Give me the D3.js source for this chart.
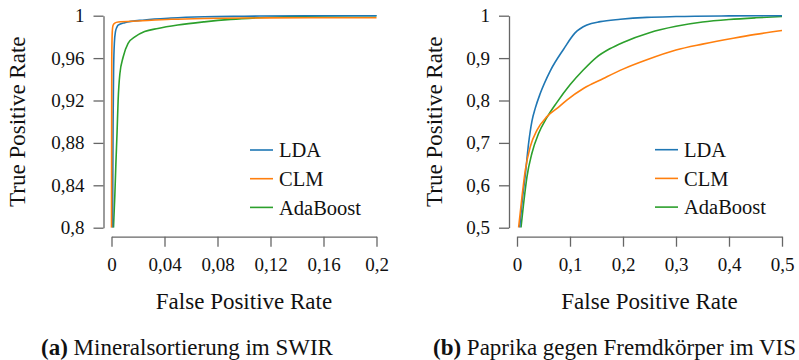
<!DOCTYPE html>
<html>
<head>
<meta charset="utf-8">
<script src="https://cdn.jsdelivr.net/npm/d3@7"></script>
<style>
  body { margin: 0; background: #ffffff; }
  svg { display: block; }
</style>
</head>
<body>
<svg id="chart" width="799" height="360"></svg>
<script>
// ROC curves, [false positive rate, true positive rate]
// (a) SWIR
var ldaSwir = [[0.0008, 0.8], [0.0012, 0.9], [0.0016, 0.95], [0.0022, 0.975], [0.003, 0.985], [0.004, 0.989],
	[0.005, 0.991], [0.01, 0.9934], [0.025, 0.996], [0.045, 0.9978], [0.07, 0.999], [0.1, 0.9995], [0.15, 1], [0.2, 1]];
var clmSwir = [[0, 0.8], [0.0002, 0.96], [0.0006, 0.985], [0.0012, 0.991], [0.0025, 0.993], [0.005, 0.994],
	[0.02, 0.995], [0.045, 0.9966], [0.07, 0.9974], [0.1, 0.9978], [0.15, 0.998], [0.2, 0.998]];
var adaSwir = [[0.0015, 0.8], [0.0025, 0.83], [0.0033, 0.86], [0.0042, 0.89], [0.005, 0.92], [0.0063, 0.945],
	[0.0088, 0.961], [0.0125, 0.974], [0.0176, 0.98], [0.025, 0.985], [0.035, 0.988], [0.05, 0.9912], [0.07, 0.9942],
	[0.09, 0.9965], [0.11, 0.998], [0.13, 0.999], [0.16, 0.9998], [0.2, 1]];

// (b) VIS
var ldaVis = [[0.005, 0.5], [0.0094, 0.558], [0.0157, 0.625], [0.022, 0.7], [0.0283, 0.752], [0.0345, 0.782],
	[0.044, 0.817], [0.0628, 0.87], [0.0879, 0.921], [0.11, 0.96], [0.132, 0.978], [0.157, 0.986],
	[0.195, 0.9915], [0.245, 0.996], [0.3, 0.998], [0.4, 0.9995], [0.5, 1]];
var clmVis = [[0.003, 0.5], [0.0094, 0.573], [0.0157, 0.636], [0.025, 0.691], [0.0377, 0.73], [0.0565, 0.762],
	[0.078, 0.784], [0.094, 0.801], [0.126, 0.829], [0.163, 0.852], [0.2, 0.874], [0.245, 0.896], [0.3, 0.919],
	[0.35, 0.933], [0.408, 0.947], [0.45, 0.956], [0.5, 0.965]];
var adaVis = [[0.0075, 0.5], [0.0125, 0.557], [0.0188, 0.62], [0.028, 0.675], [0.0407, 0.722], [0.0565, 0.76],
	[0.075, 0.795], [0.1, 0.837], [0.125, 0.872], [0.15, 0.902], [0.175, 0.922], [0.2, 0.937], [0.25, 0.96],
	[0.3, 0.975], [0.35, 0.985], [0.4, 0.991], [0.45, 0.995], [0.5, 0.998]];

var seriesNames = ["LDA", "CLM", "AdaBoost"];
var seriesColors = ["#1f77b4", "#ff7f0e", "#2ca02c"];

var xTicksSwir = [0, 0.04, 0.08, 0.12, 0.16, 0.2];
var yTicksSwir = [0.8, 0.84, 0.88, 0.92, 0.96, 1];
var xTicksVis = [0, 0.1, 0.2, 0.3, 0.4, 0.5];
var yTicksVis = [0.5, 0.6, 0.7, 0.8, 0.9, 1];

var xLabel = "False Positive Rate";
var yLabel = "True Positive Rate";

var serif = "'Liberation Serif', 'Times New Roman', serif";
var axisColor = "#666666";

var de = d3.formatLocale({ decimal: ",", thousands: ".", grouping: [3], currency: ["", " €"] });
var fmt = de.format("~g");

var svg = d3.select("#chart");
svg.append("rect").attr("width", 799).attr("height", 360).attr("fill", "#ffffff");

function panel(o)
{
	var g = svg.append("g");

	var x = d3.scaleLinear().domain(o.xDomain).range([o.left, o.right]);
	var y = d3.scaleLinear().domain(o.yDomain).range([o.bottom, o.top]);

	var xAxis = g.append("g")
		.attr("transform", "translate(0," + (o.bottom + 9) + ")")
		.call(d3.axisBottom(x).tickValues(o.xTicks).tickFormat(fmt).tickSize(10).tickSizeOuter(0).tickPadding(11));
	var yAxis = g.append("g")
		.attr("transform", "translate(" + (o.left - 8) + ",0)")
		.call(d3.axisLeft(y).tickValues(o.yTicks).tickFormat(fmt).tickSize(10).tickSizeOuter(0).tickPadding(9));

	[xAxis, yAxis].forEach(function(a)
	{
		a.attr("font-family", serif).attr("font-size", 19);
		a.selectAll("path, line").attr("stroke", axisColor).attr("stroke-width", 1.3);
		a.selectAll("text").attr("fill", "#111111");
	});

	var clipId = "clip-" + o.id;
	g.append("clipPath").attr("id", clipId)
		.append("rect")
		.attr("x", o.left - 2).attr("y", o.top - 3)
		.attr("width", o.right - o.left + 4).attr("height", o.bottom - o.top + 3);

	var line = d3.line()
		.x(function(d) { return x(d[0]); })
		.y(function(d) { return y(d[1]); })
		.curve(d3.curveMonotoneX);

	// draw order: AdaBoost, LDA, CLM
	[2, 0, 1].forEach(function(i)
	{
		g.append("path")
			.datum(o.series[i])
			.attr("clip-path", "url(#" + clipId + ")")
			.attr("fill", "none")
			.attr("stroke", seriesColors[i])
			.attr("stroke-width", 1.6)
			.attr("stroke-linejoin", "round")
			.attr("d", line);
	});

	// legend
	var leg = g.append("g").attr("transform", "translate(" + o.legendX + "," + o.legendY + ")");
	seriesNames.forEach(function(name, i)
	{
		var row = leg.append("g").attr("transform", "translate(0," + (i * 28.7) + ")");
		row.append("line")
			.attr("x1", 0).attr("x2", 23)
			.attr("stroke", seriesColors[i]).attr("stroke-width", 1.6);
		row.append("text")
			.attr("x", 29).attr("dy", "0.35em")
			.attr("font-family", serif).attr("font-size", 20.5)
			.attr("fill", "#111111")
			.text(name);
	});

	// axis titles
	g.append("text")
		.attr("x", (o.left + o.right) / 2).attr("y", 309)
		.attr("text-anchor", "middle")
		.attr("font-family", serif).attr("font-size", 23)
		.attr("fill", "#111111")
		.text(xLabel);
	g.append("text")
		.attr("transform", "translate(" + o.yLabelX + "," + ((o.top + o.bottom) / 2) + ") rotate(-90)")
		.attr("text-anchor", "middle")
		.attr("font-family", serif).attr("font-size", 23)
		.attr("fill", "#111111")
		.text(yLabel);

	// caption
	var cap = g.append("text")
		.attr("x", o.captionX).attr("y", 355)
		.attr("text-anchor", "middle")
		.attr("font-family", serif).attr("font-size", 23)
		.attr("fill", "#111111");
	cap.append("tspan").attr("font-weight", "bold").text(o.tag);
	cap.append("tspan").text(" " + o.caption);
}

panel({
	id: "a",
	xDomain: [0, 0.2], yDomain: [0.8, 1],
	left: 111.5, right: 376.5, top: 15.7, bottom: 227.7,
	xTicks: xTicksSwir, yTicks: yTicksSwir,
	series: [ldaSwir, clmSwir, adaSwir],
	legendX: 250, legendY: 150,
	yLabelX: 25,
	captionX: 187, tag: "(a)", caption: "Mineralsortierung im SWIR"
});

panel({
	id: "b",
	xDomain: [0, 0.5], yDomain: [0.5, 1],
	left: 517, right: 782, top: 15.7, bottom: 227.7,
	xTicks: xTicksVis, yTicks: yTicksVis,
	series: [ldaVis, clmVis, adaVis],
	legendX: 655, legendY: 149.7,
	yLabelX: 442,
	captionX: 614.5, tag: "(b)", caption: "Paprika gegen Fremdkörper im VIS"
});
</script>
</body>
</html>
